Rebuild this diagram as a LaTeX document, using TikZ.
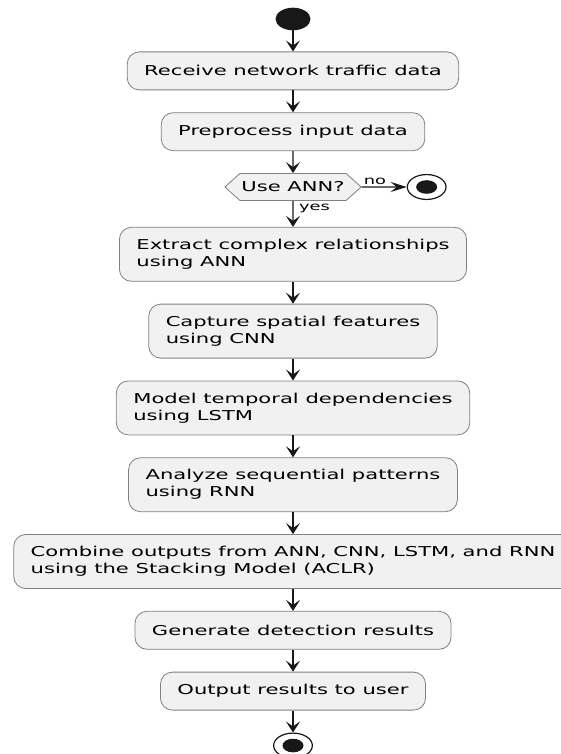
\documentclass[tikz,border=0pt]{standalone}
\usepackage{fontspec}
\setmainfont{DejaVu Sans}[FakeStretch=1.55]
\usetikzlibrary{positioning,shapes.geometric,shapes.symbols,arrows.meta}
\definecolor{actfill}{HTML}{F1F1F1}
\definecolor{actline}{HTML}{181818}
\tikzset{act/.style={rectangle,rounded corners=12pt,draw=black!50,line width=0.8pt,fill=actfill,inner xsep=17pt,inner ysep=9pt,minimum height=38pt,font=\fontsize{13.6}{17}\selectfont},
	 act2/.style={act,align=left,minimum height=54pt},
	 decide/.style={signal,signal to=west and east,signal pointer angle=84,draw=black!50,line width=0.8pt,fill=actfill,inner xsep=1.5pt,inner ysep=0pt,minimum height=27pt,font=\fontsize{13.6}{17}\selectfont},
	 startdot/.style={ellipse,fill=actline,minimum width=35pt,minimum height=22.6pt,inner sep=0pt},
	 stopdot/.style={ellipse,draw=actline,line width=1.2pt,fill=white,minimum width=38.7pt,minimum height=24.9pt,inner sep=0pt,
	   path picture={\fill[actline] (path picture bounding box.center) ellipse [x radius=10.5pt,y radius=6.8pt];}},
	 flow/.style={-{Stealth[length=11pt,width=14pt,inset=5pt]},line width=1.2pt,draw=actline},
	 guard/.style={font=\fontsize{11.5}{14}\selectfont,inner sep=1.5pt},
	 node distance = 22pt
	 }

\begin{document}
\begin{tikzpicture} % detection pipeline activity
	\useasboundingbox (0,0) rectangle (561pt,-754pt);
	\node[startdot] (start) at (293pt,-19pt) {};
	\node[act] (recv) [below=21pt of start] {Receive network traffic data};
	\node[act] (prep) [below=of recv] {Preprocess input data};
	\node[decide] (useann) [below=of prep] {Use ANN?};
	\node[stopdot] (stopno) [right=45pt of useann] {};
	\node[act2] (extract) [below=26pt of useann] {Extract complex relationships\\using ANN};
	\node[act2] (capture) [below=of extract] {Capture spatial features\\using CNN};
	\node[act2] (model) [below=of capture] {Model temporal dependencies\\using LSTM};
	\node[act2] (analyze) [below=of model] {Analyze sequential patterns\\using RNN};
	\node[act2] (combine) [below=of analyze] {Combine outputs from ANN, CNN, LSTM, and RNN\\using the Stacking Model (ACLR)};
	\node[act] (gen) [below=of combine] {Generate detection results};
	\node[act] (outp) [below=of gen] {Output results to user};
	\node[stopdot] (stop) [below=of outp] {};
	\draw[flow] (start) to (recv); \draw[flow] (recv) to (prep); \draw[flow] (prep) to (useann);
	\draw[flow,-{Stealth[length=16pt,width=10pt,inset=6pt]}] (useann) to node[guard,pos=0,above right] {no} (stopno);
	\draw[flow] (useann) to node[guard,pos=0,below right,xshift=4pt,yshift=-1pt] {yes} (extract);
	\draw[flow] (extract) to (capture); \draw[flow] (capture) to (model); \draw[flow] (model) to (analyze);
	\draw[flow] (analyze) to (combine); \draw[flow] (combine) to (gen); \draw[flow] (gen) to (outp);
	\draw[flow] (outp) to (stop);
\end{tikzpicture}
\end{document}
